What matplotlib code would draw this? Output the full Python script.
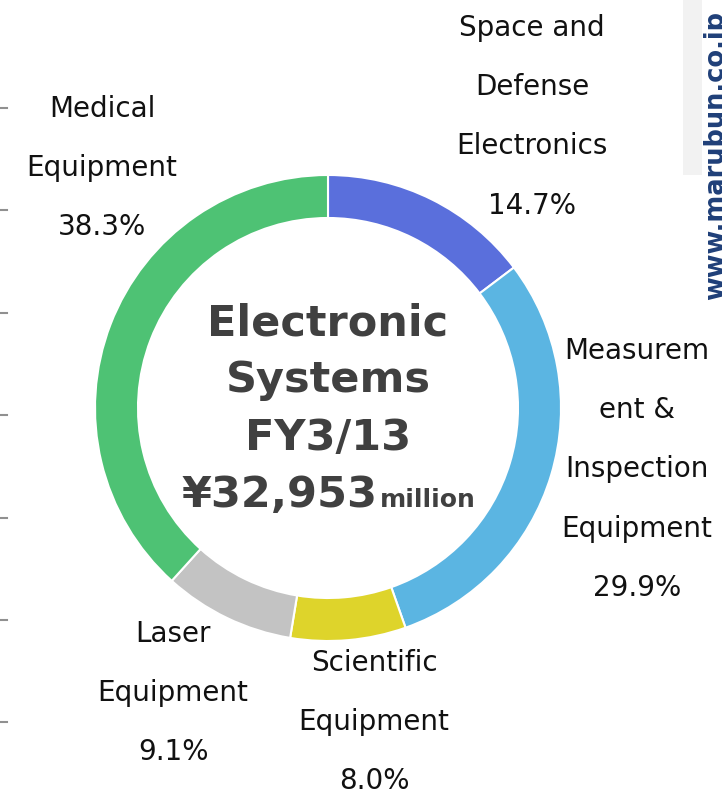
import matplotlib.pyplot as plt
from matplotlib.patches import Rectangle

# segment shares (clockwise from 12 o'clock)
segments = ['Space and Defense Electronics', 'Measurement & Inspection Equipment',
            'Scientific Equipment', 'Laser Equipment', 'Medical Equipment']
shares = [14.7, 29.9, 8.0, 9.1, 38.3]
colors = ['#5a6fdc', '#5bb5e2', '#ded42b', '#c3c3c3', '#4ec274']

# label text as printed on the slide (line breaks kept)
label_texts = ['Space and\nDefense\nElectronics\n14.7%',
               'Measurem\nent &\nInspection\nEquipment\n29.9%',
               'Scientific\nEquipment\n8.0%',
               'Laser\nEquipment\n9.1%',
               'Medical\nEquipment\n38.3%']
label_pos = [(532, 27), (637, 350), (374, 662), (173, 633), (102, 108)]

W, H = 722, 795
fig = plt.figure(figsize=(W / 100, H / 100), dpi=100)
ax = fig.add_axes([0, 0, 1, 1])

cx, cy = 328, H - 408
R = 233
ax.pie(shares, colors=colors, startangle=90, counterclock=False,
       radius=R, center=(cx, cy), frame=True,
       wedgeprops=dict(width=43, edgecolor='white', linewidth=1.5))
ax.set_xlim(0, W)
ax.set_ylim(0, H)
ax.set_aspect('equal')
ax.axis('off')

for txt, (x, y) in zip(label_texts, label_pos):
    ax.text(x, H - (y - 13), txt, ha='center', va='top', fontsize=20,
            color='#111111', linespacing=2.42)

# center title
center_lines = ['Electronic', 'Systems', 'FY3/13']
for i, line in enumerate(center_lines):
    ax.text(328, H - [335, 392, 450][i], line, ha='center', va='baseline',
            fontsize=31, fontweight='bold', color='#404040')
ax.text(378, H - 507, '¥32,953', ha='right', va='baseline',
        fontsize=31, fontweight='bold', color='#404040')
ax.text(380, H - 507, 'million', ha='left', va='baseline',
        fontsize=18, fontweight='bold', color='#404040')

# left edge tick marks from the neighbouring panel
for y in [108, 210, 313, 415, 518, 620, 722]:
    ax.plot([0, 7], [H - y, H - y], color='#909090', lw=1.5)

# watermark on the right edge
ax.add_patch(Rectangle((683, H - 175), 19, 175, color='#f2f2f2', lw=0))
ax.text(716, H - 300, 'www.marubun.co.jp', rotation=90, ha='center', va='bottom',
        fontsize=18.5, fontweight='bold', color='#1f3f78', clip_on=True)

fig.savefig('out.png', dpi=100)
